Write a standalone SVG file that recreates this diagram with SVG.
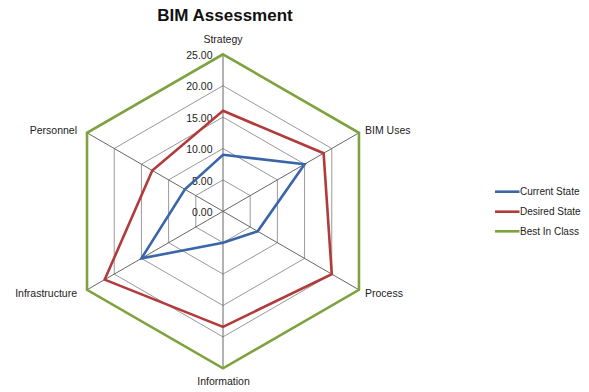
<svg xmlns="http://www.w3.org/2000/svg" width="589" height="392" viewBox="0 0 589 392">
<style>
text{font-family:"Liberation Sans",Arial,sans-serif;fill:#222}
.title{font-size:17px;font-weight:bold;text-anchor:middle;fill:#111}
.ax{font-size:10.5px}
.tk{font-size:10.5px;text-anchor:end}
.lg{font-size:10px}
.grid{fill:none;stroke:#999;stroke-width:1}
.spoke{stroke:#666;stroke-width:1}
.s{fill:none;stroke-width:2.6;stroke-linejoin:miter}
.cur{stroke:#3A65AA}
.des{stroke:#B23A3B}
.best{stroke:#7EA23E}
</style>
<rect width="589" height="392" fill="#fff"/>
<text class="title" x="225" y="21">BIM Assessment</text>
<g id="grid">
<polygon class="grid" points="223,179.9 250.19,195.6 250.19,227 223,242.7 195.81,227 195.81,195.6"/>
<polygon class="grid" points="223,148.5 277.39,179.9 277.39,242.7 223,274.1 168.61,242.7 168.61,179.9"/>
<polygon class="grid" points="223,117.1 304.58,164.2 304.58,258.4 223,305.5 141.42,258.4 141.42,164.2"/>
<polygon class="grid" points="223,85.7 331.77,148.5 331.77,274.1 223,336.9 114.23,274.1 114.23,148.5"/>
<line class="spoke" x1="223" y1="211.3" x2="223" y2="54.3"/>
<line class="spoke" x1="223" y1="211.3" x2="358.97" y2="132.8"/>
<line class="spoke" x1="223" y1="211.3" x2="358.97" y2="289.8"/>
<line class="spoke" x1="223" y1="211.3" x2="223" y2="368.3"/>
<line class="spoke" x1="223" y1="211.3" x2="87.03" y2="289.8"/>
<line class="spoke" x1="223" y1="211.3" x2="87.03" y2="132.8"/>
</g>
<g id="ticks">
<text class="tk" x="212.5" y="58.5">25.00</text>
<text class="tk" x="212.5" y="90">20.00</text>
<text class="tk" x="212.5" y="121.5">15.00</text>
<text class="tk" x="212.5" y="153">10.00</text>
<text class="tk" x="212.5" y="184.5">5.00</text>
<text class="tk" x="212.5" y="216">0.00</text>
</g>
<g id="axis-labels">
<g id="strategy"><text class="ax" x="223" y="42.5" text-anchor="middle">Strategy</text></g>
<g id="bim-uses"><text class="ax" x="365" y="133.5">BIM Uses</text></g>
<g id="process"><text class="ax" x="365" y="297">Process</text></g>
<g id="information"><text class="ax" x="223.5" y="385" text-anchor="middle">Information</text></g>
<g id="infrastructure"><text class="ax" x="77" y="297" text-anchor="end">Infrastructure</text></g>
<g id="personnel"><text class="ax" x="77" y="133.5" text-anchor="end">Personnel</text></g>
</g>
<g id="series">
<polygon class="s best" points="223,54.3 358.97,132.8 358.97,289.8 223,368.3 87.03,289.8 87.03,132.8"/>
<polygon class="s des" points="223,110.82 323.61,153.21 331.77,274.1 223,326.85 104.71,279.6 152.3,170.48"/>
<polygon class="s cur" points="223,154.8 304.58,164.2 257.64,231.3 223,242.7 141.42,258.4 184.93,189.32"/>
</g>
<g id="legend">
<line class="s cur" x1="495" y1="191.7" x2="519.5" y2="191.7"/>
<text class="lg" x="520" y="195.3">Current State</text>
<line class="s des" x1="495" y1="211.7" x2="519.5" y2="211.7"/>
<text class="lg" x="520" y="215.3">Desired State</text>
<line class="s best" x1="495" y1="231.3" x2="519.5" y2="231.3"/>
<text class="lg" x="520" y="234.9">Best In Class</text>
</g>
</svg>
